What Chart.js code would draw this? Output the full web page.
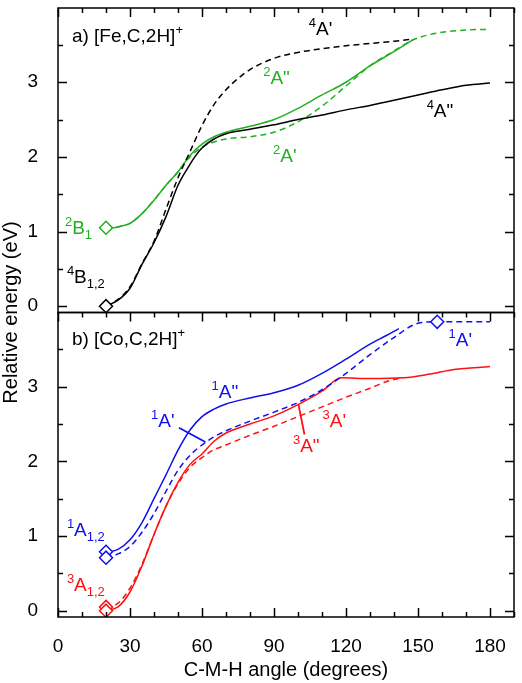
<!DOCTYPE html>
<html>
<head>
<meta charset="utf-8">
<script src="https://cdn.jsdelivr.net/npm/chart.js@4/dist/chart.umd.min.js"></script>
<style>
  html, body { margin: 0; padding: 0; background: #fff; }
  #wrap { width: 522px; height: 683px; }
</style>
</head>
<body>
<div id="wrap"><canvas id="pes"></canvas></div>
<script>
const FONT = "'Liberation Sans', Arial, Helvetica, sans-serif";
const GREEN = '#22b022', BLUE = '#1010f0', RED = '#ff1010';

// tick labels
const xTicks = [0, 30, 60, 90, 120, 150, 180];
const yTicks = [0, 1, 2, 3];

// a) [Fe,C,2H]+  quartet 4A'' (solid) and 4A' (dashed)
const fe4AppAngle  = [20, 25, 30, 35, 40, 45, 50, 55, 57, 60, 65, 70, 80, 90, 100, 110, 120, 130, 140, 150, 160, 170, 180];
const fe4AppEnergy = [0, 0.08, 0.24, 0.56, 0.85, 1.2, 1.62, 1.9, 2.0, 2.12, 2.24, 2.31, 2.37, 2.43, 2.5, 2.56, 2.63, 2.69, 2.76, 2.83, 2.9, 2.96, 2.99];
const fe4ApAngle   = [20, 25, 30, 35, 40, 45, 50, 55, 60, 65, 70, 75, 80, 90, 100, 110, 120, 130, 140, 148];
const fe4ApEnergy  = [0, 0.09, 0.26, 0.57, 0.87, 1.3, 1.72, 2.07, 2.42, 2.7, 2.9, 3.05, 3.17, 3.32, 3.4, 3.45, 3.49, 3.52, 3.55, 3.58];
// doublet 2A'' (solid) and 2A' (dashed)
const fe2AppAngle  = [20, 23, 26, 30, 35, 40, 45, 50, 55, 60, 65, 70, 80, 90, 100, 110, 120, 130, 140, 148];
const fe2AppEnergy = [1.05, 1.05, 1.07, 1.11, 1.24, 1.42, 1.62, 1.8, 2.02, 2.17, 2.27, 2.33, 2.41, 2.5, 2.65, 2.83, 3.0, 3.22, 3.41, 3.57];
const fe2ApAngle   = [20, 23, 26, 30, 35, 40, 45, 50, 55, 60, 65, 70, 80, 90, 100, 110, 120, 130, 140, 148, 155, 160, 170, 180];
const fe2ApEnergy  = [1.05, 1.05, 1.07, 1.11, 1.24, 1.42, 1.62, 1.8, 2.0, 2.13, 2.2, 2.24, 2.27, 2.33, 2.47, 2.68, 2.95, 3.22, 3.42, 3.57, 3.64, 3.67, 3.7, 3.71];
const feMinAngle = [20];
const feMinQuartet = [0];
const feMinDoublet = [1.05];

// b) [Co,C,2H]+  singlet 1A'' (solid) and 1A' (dashed)
const co1AppAngle  = [20, 25, 30, 35, 40, 45, 50, 55, 60, 65, 70, 80, 90, 100, 110, 120, 130, 137, 142];
const co1AppEnergy = [0.78, 0.82, 0.95, 1.18, 1.5, 1.82, 2.15, 2.42, 2.6, 2.7, 2.77, 2.85, 2.92, 3.02, 3.18, 3.37, 3.57, 3.69, 3.78];
const co1ApAngle   = [20, 25, 30, 35, 40, 45, 50, 55, 60, 65, 70, 80, 90, 100, 110, 120, 130, 140, 150, 158, 170, 180];
const co1ApEnergy  = [0.71, 0.76, 0.86, 1.05, 1.3, 1.6, 1.88, 2.08, 2.22, 2.33, 2.41, 2.54, 2.66, 2.79, 2.96, 3.18, 3.43, 3.66, 3.85, 3.87, 3.87, 3.87];
// triplet 3A'' (solid) and 3A' (dashed)
const co3AppAngle  = [20, 25, 30, 35, 40, 45, 50, 55, 60, 65, 70, 80, 90, 100, 110, 118, 130, 144, 155, 165, 180];
const co3AppEnergy = [0.0, 0.05, 0.25, 0.6, 1.02, 1.4, 1.72, 1.96, 2.1, 2.27, 2.38, 2.5, 2.61, 2.76, 2.94, 3.12, 3.11, 3.12, 3.17, 3.23, 3.27];
const co3ApAngle   = [20, 25, 30, 35, 40, 45, 50, 55, 60, 64, 70, 80, 90, 100, 110, 120, 130, 137, 143];
const co3ApEnergy  = [0.03, 0.1, 0.3, 0.62, 1.02, 1.4, 1.7, 1.92, 2.05, 2.14, 2.22, 2.35, 2.47, 2.6, 2.73, 2.86, 2.98, 3.07, 3.12];
const coSingletMarkAngle  = [20, 20, 158];
const coSingletMarkEnergy = [0.79, 0.71, 3.87];
const coTripletMarkAngle  = [20, 20];
const coTripletMarkEnergy = [0.05, 0.0];

const pts = (xs, ys) => xs.map((x, i) => ({ x: x, y: ys[i] }));

function curve(xs, ys, color, dashed, axis) {
  return {
    data: pts(xs, ys), yAxisID: axis, showLine: true,
    borderColor: color, borderWidth: 1.5, borderDash: dashed ? [6, 4] : [],
    pointRadius: 0, fill: false, cubicInterpolationMode: 'monotone', order: 2
  };
}
function diamonds(xs, ys, color, axis) {
  return {
    data: pts(xs, ys), yAxisID: axis, showLine: false,
    pointStyle: 'rectRot', pointRadius: 6.5, borderWidth: 1.5,
    borderColor: color, backgroundColor: '#fff', order: 1
  };
}

// labels: [panel axis, angle, energy, colour, parts]
const labels = [
  ['yFe', 5.8, 3.54, '#000', [['a) [Fe,C,2H]'], ['+', 'sup']]],
  ['yFe', 104.5, 3.63, '#000', [['4', 'sup'], ["A'"]]],
  ['yFe', 85.5, 2.97, GREEN, [['2', 'sup'], ['A"']]],
  ['yFe', 89.6, 1.93, GREEN, [['2', 'sup'], ["A'"]]],
  ['yFe', 153.6, 2.53, '#000', [['4', 'sup'], ['A"']]],
  ['yFe', 2.9, 0.97, GREEN, [['2', 'sup'], ['B'], ['1', 'sub']]],
  ['yFe', 3.7, 0.31, '#000', [['4', 'sup'], ['B'], ['1,2', 'sub']]],
  ['yCo', 5.8, 3.56, '#000', [['b) [Co,C,2H]'], ['+', 'sup']]],
  ['yCo', 64, 2.85, BLUE, [['1', 'sup'], ['A"']]],
  ['yCo', 38.8, 2.46, BLUE, [['1', 'sup'], ["A'"]]],
  ['yCo', 97.9, 2.13, RED, [['3', 'sup'], ['A"']]],
  ['yCo', 110.2, 2.46, RED, [['3', 'sup'], ["A'"]]],
  ['yCo', 162.7, 3.55, BLUE, [['1', 'sup'], ["A'"]]],
  ['yCo', 3.7, 1.0, BLUE, [['1', 'sup'], ['A'], ['1,2', 'sub']]],
  ['yCo', 3.7, 0.27, RED, [['3', 'sup'], ['A'], ['1,2', 'sub']]]
];
const leaders = [
  ['yCo', 50.4, 2.45, 61.4, 2.26, BLUE],
  ['yCo', 100.2, 2.76, 102.7, 2.36, RED]
];

const decor = {
  id: 'decor',
  afterDatasetsDraw(chart) {
    const ctx = chart.ctx, xs = chart.scales.x;
    ctx.save();
    ctx.strokeStyle = '#000';
    ctx.lineWidth = 1.5;
    ['yFe', 'yCo'].forEach(id => {
      const ys = chart.scales[id];
      const l = xs.left, r = xs.right, t = ys.top, b = ys.bottom;
      ctx.strokeRect(l, t, r - l, b - t);
      ctx.beginPath();
      for (let v = 0; v <= 190; v += 10) {
        const px = Math.round(xs.getPixelForValue(v)) + 0.5;
        const len = v % 30 === 0 ? 9 : 5;
        ctx.moveTo(px, t); ctx.lineTo(px, t + len);
        if (id === 'yCo') { ctx.moveTo(px, b); ctx.lineTo(px, b - len); }
      }
      for (let v = 0; v <= 3.5; v += 0.5) {
        const py = Math.round(ys.getPixelForValue(v)) + 0.5;
        const len = v % 1 === 0 ? 9 : 5;
        ctx.moveTo(l, py); ctx.lineTo(l + len, py);
        ctx.moveTo(r, py); ctx.lineTo(r - len, py);
      }
      ctx.stroke();
    });

    leaders.forEach(([id, x1, y1, x2, y2, c]) => {
      const ys = chart.scales[id];
      ctx.strokeStyle = c;
      ctx.lineWidth = 1.8;
      ctx.beginPath();
      ctx.moveTo(xs.getPixelForValue(x1), ys.getPixelForValue(y1));
      ctx.lineTo(xs.getPixelForValue(x2), ys.getPixelForValue(y2));
      ctx.stroke();
    });

    ctx.textAlign = 'left';
    ctx.textBaseline = 'alphabetic';
    labels.forEach(([id, x, y, c, parts]) => {
      const ys = chart.scales[id];
      let px = xs.getPixelForValue(x);
      const py = ys.getPixelForValue(y);
      ctx.fillStyle = c;
      parts.forEach(([txt, kind]) => {
        ctx.font = (kind ? 13 : 19) + 'px ' + FONT;
        const dy = kind === 'sup' ? -8 : kind === 'sub' ? 5 : 0;
        ctx.fillText(txt, px, py + dy);
        px += ctx.measureText(txt).width;
      });
    });

    // shared y title across both panels
    const top = chart.chartArea.top, bottom = chart.chartArea.bottom;
    ctx.save();
    ctx.translate(11, (top + bottom) / 2);
    ctx.rotate(-Math.PI / 2);
    ctx.font = '20px ' + FONT;
    ctx.fillStyle = '#000';
    ctx.textAlign = 'center';
    ctx.textBaseline = 'middle';
    ctx.fillText('Relative energy (eV)', 0, 0);
    ctx.restore();
    ctx.restore();
  }
};

function yAxis() {
  return {
    type: 'linear', position: 'left', stack: 'panels', stackWeight: 1,
    min: -0.085, max: 3.995,
    grid: { display: false, drawTicks: false },
    border: { display: false },
    ticks: { color: '#000', font: { family: FONT, size: 19 }, padding: 20 },
    afterBuildTicks: s => { s.ticks = yTicks.map(v => ({ value: v })); },
    afterFit: s => { s.width = 58; s.paddingTop = 0; s.paddingBottom = 0; }
  };
}

new Chart(document.getElementById('pes'), {
  type: 'scatter',
  data: {
    datasets: [
      curve(fe4AppAngle, fe4AppEnergy, '#000', false, 'yFe'),
      curve(fe4ApAngle, fe4ApEnergy, '#000', true, 'yFe'),
      curve(fe2AppAngle, fe2AppEnergy, GREEN, false, 'yFe'),
      curve(fe2ApAngle, fe2ApEnergy, GREEN, true, 'yFe'),
      diamonds(feMinAngle, feMinQuartet, '#000', 'yFe'),
      diamonds(feMinAngle, feMinDoublet, GREEN, 'yFe'),
      curve(co1AppAngle, co1AppEnergy, BLUE, false, 'yCo'),
      curve(co1ApAngle, co1ApEnergy, BLUE, true, 'yCo'),
      curve(co3AppAngle, co3AppEnergy, RED, false, 'yCo'),
      curve(co3ApAngle, co3ApEnergy, RED, true, 'yCo'),
      diamonds(coSingletMarkAngle, coSingletMarkEnergy, BLUE, 'yCo'),
      diamonds(coTripletMarkAngle, coTripletMarkEnergy, RED, 'yCo')
    ]
  },
  options: {
    responsive: true,
    maintainAspectRatio: false,
    animation: false,
    layout: { padding: { top: 3, right: 3, left: 0, bottom: 0 } },
    plugins: { legend: { display: false }, tooltip: { enabled: false } },
    scales: {
      x: {
        type: 'linear', min: 0, max: 190,
        grid: { display: false, drawTicks: false },
        border: { display: false },
        ticks: { color: '#000', font: { family: FONT, size: 19 }, padding: 18, maxRotation: 0 },
        afterBuildTicks: s => { s.ticks = xTicks.map(v => ({ value: v })); },
        afterFit: s => { s.height = 66; s.paddingLeft = 0; s.paddingRight = 0; },
        title: { display: true, text: 'C-M-H angle (degrees)', color: '#000',
                 font: { family: FONT, size: 20 }, padding: { top: 0, bottom: 1 } }
      },
      yCo: yAxis(),
      yFe: yAxis()
    }
  },
  plugins: [decor]
});
</script>
</body>
</html>
